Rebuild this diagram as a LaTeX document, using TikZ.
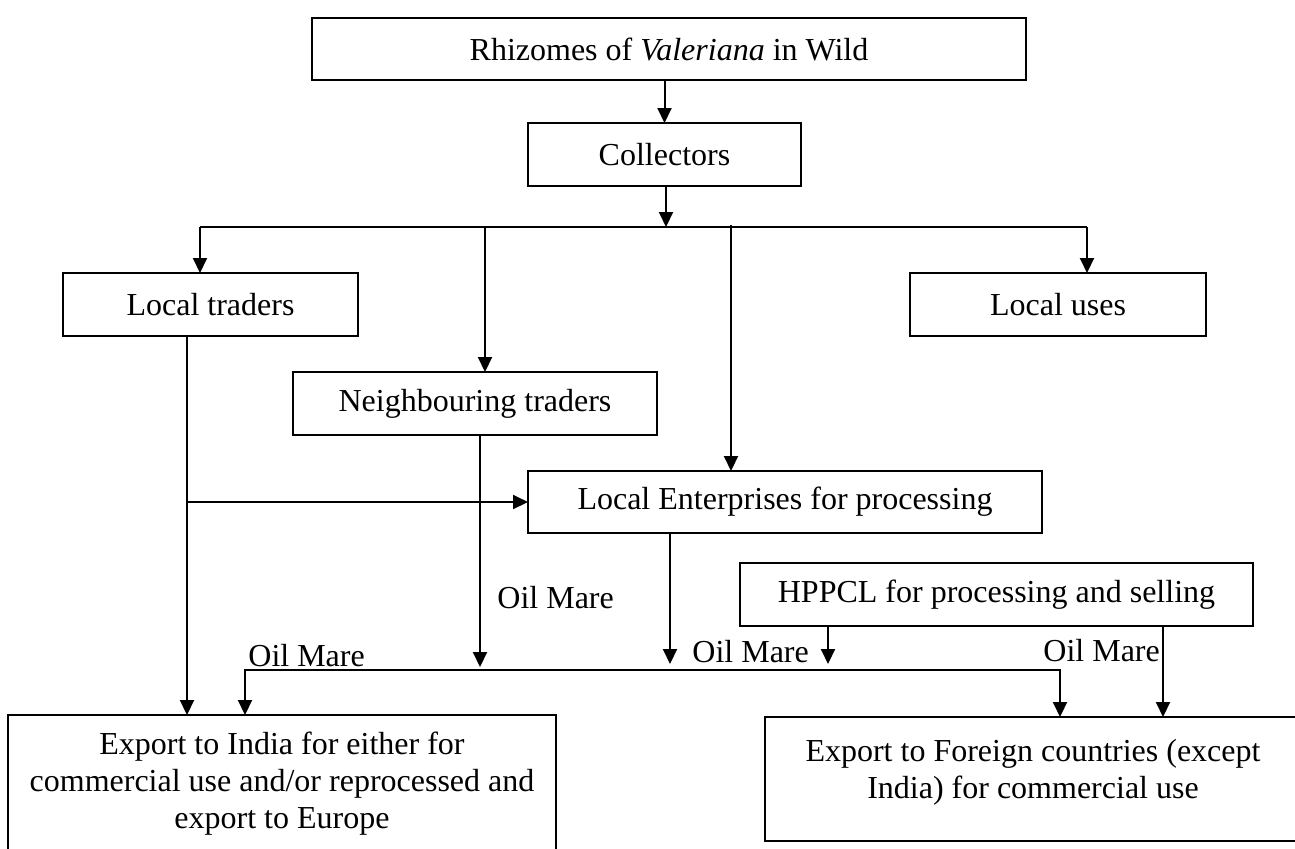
\documentclass[tikz,border=0pt]{standalone}
\usepackage{fontspec}
\setmainfont{Liberation Serif}
\usepackage{tikz}
\usetikzlibrary{arrows.meta,positioning}

\begin{document}
\begin{tikzpicture}[x=0.5pt,y=-0.5pt,
  font=\fontsize{16}{18.4}\selectfont,
  stage/.style={draw, line width=1pt, inner sep=0pt, outer sep=0pt, align=center},
  flow/.style={line width=1pt, -{Triangle[length=7.5pt,width=7pt]}},
  oil/.style={anchor=base west, inner sep=0pt}]
\useasboundingbox (0,0) rectangle (1295,848);
%
\node[stage, minimum width=357pt, minimum height=31pt] (rhiz) at (669,49) {Rhizomes of \textit{Valeriana} in Wild};
\node[stage, minimum width=136.5pt, minimum height=31.5pt] (coll) at (664.5,154.5) {Collectors};
\node[stage, minimum width=147.5pt, minimum height=31.5pt] (ltrad) at (210.5,304.5) {Local traders};
\node[stage, minimum width=148pt, minimum height=31.5pt] (luses) at (1058,304.5) {Local uses};
\node[stage, minimum width=182pt, minimum height=31.5pt] (neigh) at (475,403.5) {Neighbouring traders};
\node[stage, minimum width=257pt, minimum height=31pt] (lent) at (785,502) {Local Enterprises for processing};
\node[stage, minimum width=256.5pt, minimum height=31.5pt] (hppcl) at (996.5,594.5) {HPPCL for processing and selling};
\node[stage, minimum width=274pt, minimum height=68.5pt] (expind) at (282,783.5) {Export to India for either for\\commercial use and/or reprocessed and\\export to Europe};
\node[stage, minimum width=268pt, minimum height=62pt, text depth=10.5pt] (expfor) at (1033,779) {Export to Foreign countries (except\\India) for commercial use};
%
% junctions on the two bus lines
\coordinate (jn) at (666,227);
\coordinate (tl) at (200,227);
\coordinate (tr) at (1087,227);
\coordinate (tn) at (485,227);
\coordinate (te) at (731,225);
\coordinate (lb) at (187,502);
\coordinate (bl) at (245,670);
\coordinate (br) at (1060,670);
\coordinate (n1) at (480,667);
\coordinate (e1) at (670,664);
\coordinate (h1) at (828,664);
%
\draw[flow] (coll.north |- rhiz.south) -- (coll.north);
\draw[flow] (coll.south -| jn) -- (jn);
\draw[line width=1pt] (tl) -- (tr);
\draw[flow] (tl) -- (ltrad.north -| tl);
\draw[flow] (tr) -- (luses.north -| tr);
\draw[flow] (tn) -- (neigh.north -| tn);
\draw[flow] (te) -- (lent.north -| te);
%
\draw[flow] (ltrad.south -| lb) -- (expind.north -| lb);
\draw[flow] (lb) -- (lent.west);
\draw[flow] (neigh.south -| n1) -- (n1);
\draw[flow] (lent.south -| e1) -- (e1);
\draw[flow] (hppcl.south -| h1) -- (h1);
\draw[flow] (hppcl.south -| 1163,0) -- (expfor.north -| 1163,0);
\draw[line width=1pt, {Triangle[length=7.5pt,width=7pt]}-{Triangle[length=7.5pt,width=7pt]}] (expind.north -| bl) -- (bl) -- (br) -- (expfor.north -| br);
%
\node[oil] (om1) at (497,608) {Oil Mare};
\node[oil] (om2) at (248,666) {Oil Mare};
\node[oil] (om3) at (692,662) {Oil Mare};
\node[oil] (om4) at (1043,661) {Oil Mare};
%
\end{tikzpicture}
\end{document}
